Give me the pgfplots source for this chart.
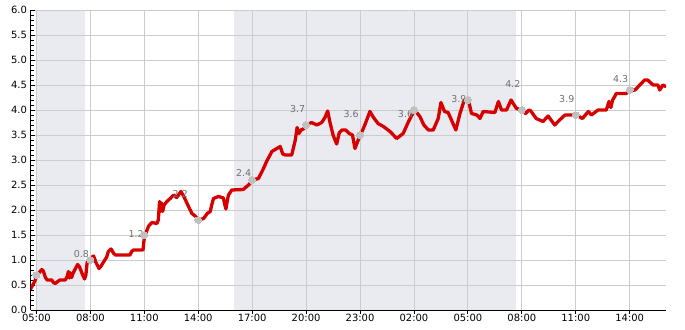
\documentclass[border=0pt]{standalone}
\usepackage{pgfplots}
\pgfplotsset{compat=1.18}
\usepackage{pgfplotstable}
\usepackage{fontspec}
\setmainfont{DejaVu Sans}
\definecolor{shade}{RGB}{234,235,241}
\definecolor{gridc}{RGB}{204,204,204}
\definecolor{linered}{RGB}{214,0,0}
\definecolor{ptgray}{RGB}{192,192,192}
\definecolor{lblgray}{RGB}{112,112,112}

\pgfplotstableread{
h v
-0.33 0.42
-0.2 0.5
-0.1 0.57
0.0 0.66
0.07 0.70
0.18 0.76
0.3 0.81
0.38 0.78
0.5 0.65
0.6 0.60
0.85 0.60
0.95 0.55
1.04 0.53
1.15 0.56
1.3 0.60
1.6 0.60
1.7 0.66
1.78 0.77
1.84 0.64
1.9 0.74
1.96 0.65
2.02 0.72
2.1 0.78
2.29 0.91
2.4 0.86
2.55 0.72
2.68 0.62
2.75 0.70
2.82 0.95
2.9 1.0
3.0 0.99
3.1 1.06
3.18 1.08
3.3 0.96
3.48 0.83
3.6 0.88
3.8 1.0
3.9 1.05
4.0 1.17
4.15 1.22
4.3 1.13
4.4 1.10
5.2 1.10
5.3 1.17
5.4 1.20
5.93 1.20
5.97 1.35
6.02 1.48
6.1 1.55
6.24 1.68
6.43 1.75
6.7 1.73
6.78 1.80
6.85 2.17
6.9 1.97
6.96 2.14
7.02 1.97
7.1 2.10
7.26 2.17
7.44 2.23
7.63 2.30
7.8 2.25
8.04 2.37
8.2 2.27
8.46 2.07
8.65 1.93
8.83 1.88
9.03 1.80
9.3 1.83
9.5 1.93
9.67 1.97
9.75 2.10
9.85 2.23
10.13 2.27
10.4 2.24
10.47 2.12
10.54 2.02
10.6 2.15
10.68 2.30
10.87 2.40
11.5 2.41
11.8 2.50
12.03 2.60
12.35 2.63
12.63 2.83
12.8 2.97
13.1 3.17
13.37 3.23
13.56 3.27
13.7 3.12
13.85 3.10
14.2 3.10
14.4 3.40
14.5 3.65
14.6 3.53
14.72 3.60
14.85 3.62
15.03 3.70
15.3 3.75
15.6 3.70
15.87 3.75
16.05 3.85
16.2 3.98
16.33 3.75
16.5 3.50
16.7 3.32
16.85 3.55
17.0 3.60
17.2 3.60
17.4 3.53
17.58 3.50
17.72 3.23
17.9 3.40
18.03 3.50
18.3 3.73
18.55 3.97
18.75 3.85
19.0 3.73
19.3 3.67
19.67 3.57
20.04 3.43
20.4 3.53
20.7 3.77
21.03 4.00
21.33 3.87
21.55 3.70
21.8 3.60
22.07 3.60
22.35 3.83
22.5 4.15
22.7 3.97
22.9 3.95
23.0 3.87
23.33 3.60
23.56 3.93
23.8 4.20
24.03 4.20
24.2 3.93
24.5 3.90
24.67 3.83
24.85 3.97
25.5 3.95
25.7 4.17
25.87 4.00
26.15 4.00
26.4 4.20
26.7 4.03
27.03 4.00
27.2 3.93
27.4 4.00
27.5 3.98
27.8 3.83
28.18 3.77
28.46 3.88
28.83 3.70
29.1 3.80
29.4 3.90
29.9 3.90
30.03 3.90
30.37 3.83
30.7 3.97
30.87 3.90
31.24 4.00
31.7 4.00
31.85 4.17
31.95 4.05
32.05 4.20
32.17 4.27
32.25 4.33
32.8 4.33
33.03 4.39
33.3 4.40
33.56 4.50
33.83 4.60
34.0 4.60
34.3 4.50
34.57 4.50
34.67 4.40
34.85 4.50
35.0 4.47
}\mainline

\pgfplotstableread{
h v
0 0.70
3 1.00
6 1.50
9 1.80
12 2.60
15 3.70
18 3.50
21 4.00
24 4.20
27 4.00
30 3.90
33 4.40
}\points

\pgfplotstableread{
h v lbl
2.5 1.12 0.8
5.55 1.52 1.2
8.0 2.32 2.2
11.53 2.74 2.4
14.53 4.02 3.7
17.5 3.92 3.6
20.53 3.92 3.6
23.5 4.21 3.9
26.5 4.52 4.2
29.5 4.21 3.9
32.5 4.61 4.3
}\labels

\pgfplotstableread{
h v
0 6
2.68 6
}\nightA
\pgfplotstableread{
h v
11.0 6
26.68 6
}\nightB

\begin{document}
\begin{tikzpicture}
\begin{axis}[
  set layers,
  scale only axis,
  width=635.5bp, height=300bp,
  xmin=-0.33, xmax=35.02,
  ymin=0, ymax=6,
  axis x line*=bottom, axis y line*=left,
  axis line style={black, line width=0.8bp},
  xtick={0,3,6,9,12,15,18,21,24,27,30,33},
  xticklabels={05:00,08:00,11:00,14:00,17:00,20:00,23:00,02:00,05:00,08:00,11:00,14:00},
  ytick={0,0.5,...,6.01},
  minor y tick num=4,
  tick align=inside,
  major tick length=4bp,
  minor tick length=3bp,
  tick style={black, line width=0.8bp},
  major x tick style={yshift=-4bp},
  grid=major,
  major grid style={gridc, line width=0.8bp},
  yticklabel style={/pgf/number format/.cd, fixed, fixed zerofill, precision=1},
  /pgf/number format/assume math mode=true,
  tick label style={font=\fontsize{10}{12}\selectfont, black},
  xticklabel style={yshift=-1bp},
  clip=true,
]
\addplot[fill=shade, draw=none, on layer=axis background] table[x=h,y=v] {\nightA} \closedcycle;
\addplot[fill=shade, draw=none, on layer=axis background] table[x=h,y=v] {\nightB} \closedcycle;
\addplot[only marks, mark=none, nodes near coords, point meta=explicit symbolic,
  every node near coord/.append style={anchor=center, text=lblgray, font=\fontsize{9.5}{11}\selectfont, inner sep=0pt}]
  table[x=h, y=v, meta=lbl] {\labels};
\addplot[linered, line width=3.3bp, line join=round, line cap=round, mark=none] table[x=h,y=v] {\mainline};
\addplot[ptgray, only marks, mark=*, mark size=3.5bp, mark options={fill=ptgray, draw=ptgray, line width=0pt}] table[x=h,y=v] {\points};
\end{axis}
\pgfresetboundingbox
\path[use as bounding box] ([shift={(-30.5bp,-20bp)}]current axis.south west) rectangle ([shift={(19bp,10bp)}]current axis.north east);
\end{tikzpicture}
\end{document}
